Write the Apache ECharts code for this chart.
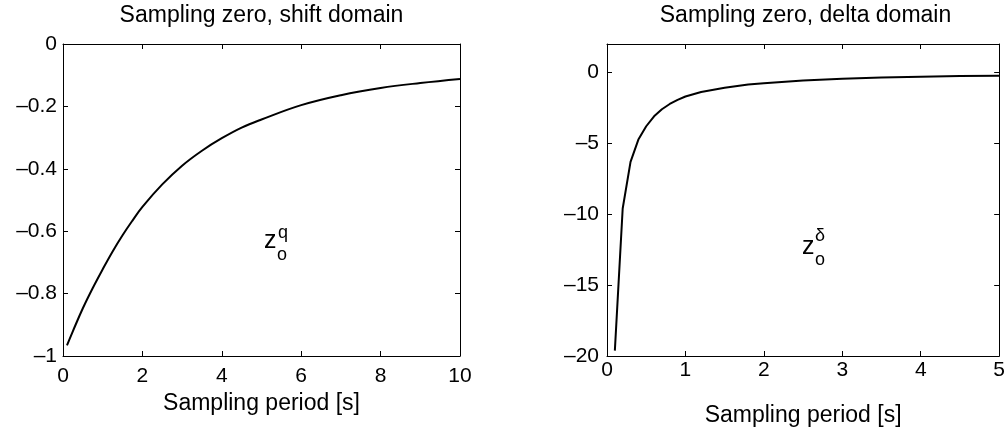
<!DOCTYPE html>
<html>
<head>
<meta charset="utf-8">
<script src="https://cdn.jsdelivr.net/npm/echarts@6/dist/echarts.min.js"></script>
<style>
html,body{margin:0;padding:0;background:#fff;}
#c{width:1008px;height:432px;}
</style>
</head>
<body>
<div id="c"></div>
<script>
// Shift domain sampling zero
const shiftT = [0.1, 0.25, 0.5, 0.75, 1, 1.25, 1.5, 1.75, 2, 2.5, 3, 3.5, 4, 4.5, 5, 6, 7, 8, 9, 10];
const shiftZero = [-0.966, -0.92, -0.847, -0.782, -0.722, -0.665, -0.613, -0.566, -0.522, -0.45, -0.39, -0.342, -0.302, -0.268, -0.242, -0.196, -0.164, -0.141, -0.125, -0.112];
// Delta domain sampling zero
const deltaT = [0.1, 0.2, 0.3, 0.4, 0.5, 0.6, 0.7, 0.8, 0.9, 1.0, 1.2, 1.5, 1.8, 2.0, 2.5, 3, 3.5, 4, 4.5, 5];
const deltaZero = [-19.62, -9.6, -6.31, -4.74, -3.8, -3.1, -2.6, -2.23, -1.94, -1.7, -1.38, -1.08, -0.86, -0.76, -0.57, -0.45, -0.37, -0.31, -0.26, -0.23];

const titles = ['Sampling zero, shift domain', 'Sampling zero, delta domain'];
const xName = 'Sampling period [s]';

const FONT = "'Liberation Sans', Arial, Helvetica, sans-serif";
const black = '#000';

function fmt(v) {
  const a = +Math.abs(v).toFixed(3);
  if (a === 0) return '0';
  return (v < 0 ? '\u2013' : '') + String(a);
}

const grids = [
  {left: 63, top: 44, width: 397, height: 312},
  {left: 607, top: 44, width: 397, height: 312}
];

function xAx(gi, min, max, interval, margin, nameGap) {
  return {
    type: 'value', gridIndex: gi, min, max, interval, position: 'bottom',
    name: xName, nameLocation: 'middle', nameGap: nameGap,
    nameTextStyle: {color: black, fontSize: 23, fontFamily: FONT},
    axisLine: {show: true, onZero: false, lineStyle: {color: black, width: 1}},
    axisTick: {show: true, inside: true, length: 5, lineStyle: {color: black}},
    axisLabel: {show: true, color: black, fontSize: 21, fontFamily: FONT, margin: margin, formatter: fmt},
    splitLine: {show: false}
  };
}
function xAxTop(gi, min, max, interval) {
  return {
    type: 'value', gridIndex: gi, min, max, interval, position: 'top',
    axisLine: {show: true, onZero: false, lineStyle: {color: black, width: 1}},
    axisTick: {show: true, inside: true, length: 5, lineStyle: {color: black}},
    axisLabel: {show: false}, splitLine: {show: false}
  };
}
function yAx(gi, min, max, interval, margin, hideVal) {
  return {
    type: 'value', gridIndex: gi, min, max, interval, position: 'left',
    axisLine: {show: true, onZero: false, lineStyle: {color: black, width: 1}},
    axisTick: {show: true, inside: true, length: 5, lineStyle: {color: black}},
    axisLabel: {show: true, color: black, fontSize: 21, fontFamily: FONT, margin: margin,
      formatter: v => (hideVal !== undefined && Math.abs(v - hideVal) < 1e-9) ? '' : fmt(v)},
    splitLine: {show: false}
  };
}
function yAxRight(gi, min, max, interval) {
  return {
    type: 'value', gridIndex: gi, min, max, interval, position: 'right',
    axisLine: {show: true, onZero: false, lineStyle: {color: black, width: 1}},
    axisTick: {show: true, inside: true, length: 5, lineStyle: {color: black}},
    axisLabel: {show: false}, splitLine: {show: false}
  };
}

const chart = echarts.init(document.getElementById('c'), null, {renderer: 'canvas'});
const option = {
  backgroundColor: '#fff',
  animation: false,
  title: [
    {text: titles[0], left: 261.5, top: 4, textAlign: 'center', padding: 0,
     textStyle: {color: black, fontSize: 23, fontWeight: 'normal', fontFamily: FONT}},
    {text: titles[1], left: 805.5, top: 4, textAlign: 'center', padding: 0,
     textStyle: {color: black, fontSize: 23, fontWeight: 'normal', fontFamily: FONT}}
  ],
  grid: grids.map(g => Object.assign({containLabel: false}, g)),
  xAxis: [
    xAx(0, 0, 10, 2, 10, 31),
    xAxTop(0, 0, 10, 2),
    xAx(1, 0, 5, 1, 4, 48),
    xAxTop(1, 0, 5, 1)
  ],
  yAxis: [
    yAx(0, -1, 0, 0.2, 6),
    yAxRight(0, -1, 0, 0.2),
    yAx(1, -20, 2, 5, 8, 2),
    yAxRight(1, -20, 2, 5)
  ],
  series: [
    {type: 'line', xAxisIndex: 0, yAxisIndex: 0, smooth: 0.4, symbol: 'none',
     lineStyle: {color: black, width: 2},
     data: shiftT.map((t, i) => [t, shiftZero[i]])},
    {type: 'line', xAxisIndex: 2, yAxisIndex: 2, smooth: false, symbol: 'none',
     lineStyle: {color: black, width: 2},
     data: deltaT.map((t, i) => [t, deltaZero[i]])}
  ],
  graphic: [
    {type: 'text', left: 264, top: 229, style: {text: 'z', fontSize: 25, fontFamily: FONT, fill: black}},
    {type: 'text', left: 277, top: 246, style: {text: 'o', fontSize: 18, fontFamily: FONT, fill: black}},
    {type: 'text', left: 278, top: 224, style: {text: 'q', fontSize: 18, fontFamily: FONT, fill: black}},
    {type: 'text', left: 802, top: 235, style: {text: 'z', fontSize: 25, fontFamily: FONT, fill: black}},
    {type: 'text', left: 815, top: 251, style: {text: 'o', fontSize: 18, fontFamily: FONT, fill: black}},
    {type: 'text', left: 815, top: 227, style: {text: '\u03B4', fontSize: 18, fontFamily: FONT, fill: black}}
  ]
};
chart.setOption(option);
</script>
</body>
</html>
